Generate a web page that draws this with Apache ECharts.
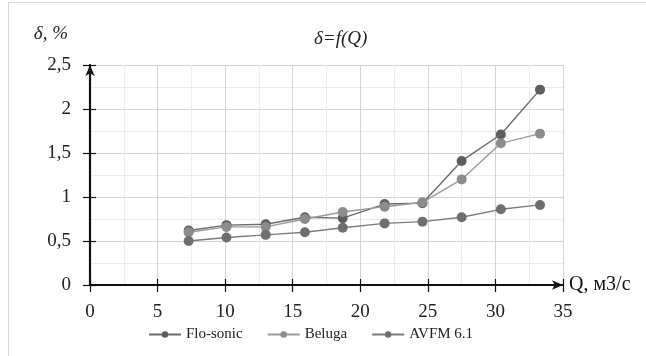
<!DOCTYPE html>
<html>
<head>
<meta charset="utf-8">
<script src="https://cdn.jsdelivr.net/npm/echarts@6/dist/echarts.min.js"></script>
<style>
  html, body { margin: 0; padding: 0; background: #fff; }
  #chart { width: 646px; height: 356px; }
</style>
</head>
<body>
<div id="chart"></div>
<script>
// расход Q, м3/с
const qValues = [7.3, 10.1, 13.0, 15.9, 18.7, 21.8, 24.6, 27.5, 30.4, 33.3]
// погрешность δ, %
const floSonic = [0.62, 0.68, 0.69, 0.77, 0.76, 0.92, 0.93, 1.41, 1.71, 2.22]
const beluga = [0.6, 0.66, 0.66, 0.75, 0.83, 0.89, 0.94, 1.2, 1.61, 1.72]
const avfm = [0.5, 0.54, 0.57, 0.6, 0.65, 0.7, 0.72, 0.77, 0.86, 0.91]
const seriesNames = ['Flo-sonic', 'Beluga', 'AVFM 6.1']

const serif = '"Liberation Serif", "DejaVu Serif", serif'
const comma = (v) => String(v).replace('.', ',')

const pairs = (ys) => qValues.map((q, i) => [q, ys[i]])

const makeSeries = (name, ys, color, lineColor) => ({
  name: name,
  type: 'line',
  data: pairs(ys),
  symbol: 'circle',
  symbolSize: 10,
  itemStyle: { color: color },
  lineStyle: { color: lineColor, width: 1.4 },
  emphasis: { disabled: true },
})

const chart = echarts.init(document.getElementById('chart'))
chart.setOption({
  animation: false,
  backgroundColor: '#fff',
  title: {
    text: 'δ=f(Q)',
    left: 309,
    top: 24,
    textStyle: { fontFamily: serif, fontStyle: 'italic', fontWeight: 'normal', fontSize: 19, color: '#222' },
  },
  graphic: [
    {
      type: 'rect',
      shape: { x: 8.5, y: 2.5, width: 640, height: 360 },
      style: { fill: 'none', stroke: '#d6d6d6', lineWidth: 1 },
      silent: true,
    },
  ],
  legend: {
    bottom: 9,
    left: 143,
    itemWidth: 32,
    itemHeight: 8,
    itemGap: 24,
    data: seriesNames,
    textStyle: { fontFamily: serif, fontSize: 15, color: '#222' },
  },
  grid: { left: 90, right: 83, top: 65, bottom: 71 },
  xAxis: [
    {
      type: 'value',
      min: 0,
      max: 35,
      interval: 5,
      name: 'Q, м3/с',
      nameLocation: 'end',
      nameGap: 6,
      nameTextStyle: { fontFamily: serif, fontSize: 20, color: '#111', verticalAlign: 'middle' },
      axisLine: { show: true, symbol: ['none', 'arrow'], symbolSize: [7, 11], lineStyle: { color: '#111', width: 2.2 } },
      axisTick: { show: true, length: 7, lineStyle: { color: '#111', width: 1.2 } },
      axisLabel: { margin: 18, fontFamily: serif, fontSize: 19, color: '#222' },
      splitLine: { show: true, lineStyle: { color: '#d2d2d2', width: 1 } },
      minorTick: { show: false, splitNumber: 2 },
      minorSplitLine: { show: true, lineStyle: { color: '#ececec', width: 1 } },
    },
    {
      type: 'value',
      min: 0,
      max: 35,
      interval: 5,
      position: 'bottom',
      axisLine: { show: false },
      axisTick: { show: true, inside: true, length: 6, lineStyle: { color: '#111', width: 1.2 } },
      axisLabel: { show: false },
      splitLine: { show: false },
    },
  ],
  yAxis: [
    {
      type: 'value',
      min: 0,
      max: 2.5,
      interval: 0.5,
      name: 'δ, %',
      nameLocation: 'end',
      nameGap: 22,
      nameTextStyle: { fontFamily: serif, fontStyle: 'italic', fontSize: 19, color: '#222', align: 'right', padding: [0, 22, 0, 0] },
      axisLine: { show: true, symbol: ['none', 'arrow'], symbolSize: [7, 11], lineStyle: { color: '#111', width: 2.2 } },
      axisTick: { show: true, length: 7, lineStyle: { color: '#111', width: 1.2 } },
      axisLabel: { margin: 19, fontFamily: serif, fontSize: 19, color: '#222', formatter: comma },
      splitLine: { show: true, lineStyle: { color: '#d2d2d2', width: 1 } },
      minorTick: { show: false, splitNumber: 2 },
      minorSplitLine: { show: true, lineStyle: { color: '#ececec', width: 1 } },
    },
    {
      type: 'value',
      min: 0,
      max: 2.5,
      interval: 0.5,
      position: 'left',
      axisLine: { show: false },
      axisTick: { show: true, inside: true, length: 6, lineStyle: { color: '#111', width: 1.2 } },
      axisLabel: { show: false },
      splitLine: { show: false },
    },
  ],
  series: [
    makeSeries(seriesNames[0], floSonic, '#5e5e5e', '#6a6a6a'),
    makeSeries(seriesNames[1], beluga, '#8c8c8c', '#9a9a9a'),
    makeSeries(seriesNames[2], avfm, '#6e6e6e', '#7c7c7c'),
  ],
})
</script>
</body>
</html>
